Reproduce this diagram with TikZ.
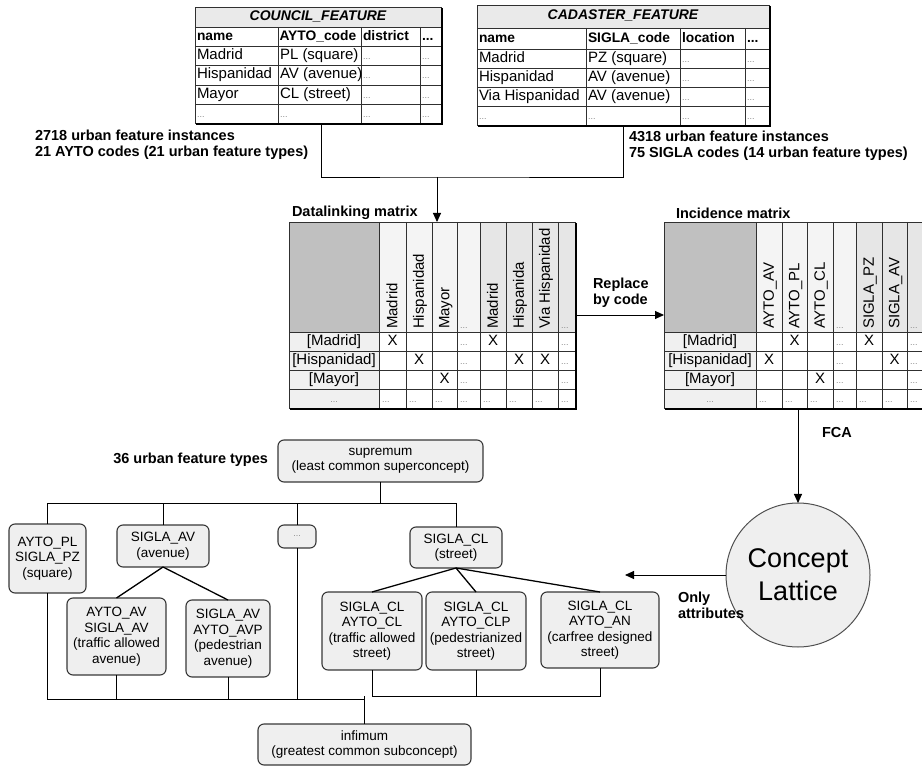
\documentclass[tikz,border=0pt]{standalone}
\usepackage{fontspec}
\setmainfont{Liberation Sans}
\usetikzlibrary{arrows.meta}

\definecolor{titlebg}{HTML}{EAEAEA}
\definecolor{cornerbg}{HTML}{C0C0C0}
\definecolor{headA}{HTML}{F4F4F4}
\definecolor{headB}{HTML}{E6E6E6}
\definecolor{labelbg}{HTML}{F0F0F0}
\definecolor{dotgray}{HTML}{8A8A8A}
\definecolor{gridcol}{HTML}{303030}
\definecolor{boxfill}{HTML}{EFEFEF}
\definecolor{boxline}{HTML}{383838}
\definecolor{circline}{HTML}{505050}

% grey cell dots and black header dots
\newcommand{\dts}{{\color{dotgray}\fontsize{9}{9}\selectfont...}}
\newcommand{\bdots}{...}

\tikzset{
  every node/.style={inner sep=0pt, outer sep=0pt},
  gridline/.style={draw=gridcol, line width=0.8pt},
  shadowline/.style={draw=black, line width=2pt},
  celltext/.style={font=\fontsize{15}{17}\selectfont, anchor=west, text height=10.5pt, text depth=3pt},
  hdrtext/.style={font=\bfseries\fontsize{13.8}{17}\selectfont, anchor=west, text height=10.5pt, text depth=3pt},
  titletext/.style={font=\bfseries\itshape\fontsize{14}{16}\selectfont, text height=10pt, text depth=3pt},
  rowlbl/.style={font=\fontsize{15}{17}\selectfont, text height=10.5pt, text depth=3pt},
  xcell/.style={font=\fontsize{15}{17}\selectfont, text height=10.5pt, text depth=3pt},
  vtext/.style={font=\fontsize{15}{17}\selectfont, rotate=90, anchor=west, text height=10.5pt, text depth=3pt},
  boldlbl/.style={font=\bfseries\fontsize{14.5}{16}\selectfont, align=left},
  conn/.style={draw=black, line width=0.9pt},
  arrowconn/.style={conn, -{Triangle[length=9pt,width=8pt]}},
  diag/.style={draw=black, line width=1.3pt},
  lbox/.style={draw=boxline, fill=boxfill, line width=1.1pt, rounded corners=6pt,
               align=center, font=\fontsize{13.5}{15.5}\selectfont},
}

\begin{document}
\begin{tikzpicture}[x=1pt,y=-1pt]
\useasboundingbox (0,0) rectangle (922,767);
\begin{scope}
\clip (0,0) rectangle (922,767);

% ---------------- COUNCIL_FEATURE table ----------------
\fill[titlebg] (195,7) rectangle (441,27);
\fill[white] (195,27) rectangle (441,123);
\foreach \yy in {27,46,65,85,104} \draw[gridline] (195,\yy) -- (441,\yy);
\foreach \xx in {278,361,420} \draw[gridline] (\xx,27) -- (\xx,123);
\draw[gridline] (195,7) rectangle (441,123);
\draw[shadowline] (441.5,8) -- (441.5,124) -- (196,124);
\node[titletext] (cf-title) at (318,17.5) {COUNCIL\_FEATURE};
\node[hdrtext] (cf-h1) at (197,36.5) {name};
\node[hdrtext] (cf-h2) at (279.5,36.5) {AYTO\_code};
\node[hdrtext] (cf-h3) at (363,36.5) {district};
\node[hdrtext] (cf-h4) at (422,36.5) {\bdots};
\foreach \r/\yy/\a/\b in {1/55.5/Madrid/PL (square), 2/75/Hispanidad/AV (avenue),
                          3/94.5/Mayor/CL (street), 4/113.5/\dts/\dts} {
  \node[celltext] (cf-\r-1) at (197,\yy) {\a};
  \node[celltext] (cf-\r-2) at (280,\yy) {\b};
  \node[celltext] (cf-\r-3) at (363,\yy) {\dts};
  \node[celltext] (cf-\r-4) at (422,\yy) {\dts};
}

% ---------------- CADASTER_FEATURE table ----------------
\fill[titlebg] (477,5) rectangle (769,28);
\fill[white] (477,28) rectangle (769,125);
\foreach \yy in {28,49,68,87,106} \draw[gridline] (477,\yy) -- (769,\yy);
\foreach \xx in {586,680,745} \draw[gridline] (\xx,28) -- (\xx,125);
\draw[gridline] (477,5) rectangle (769,125);
\draw[shadowline] (769.5,6) -- (769.5,126) -- (478,126);
\node[titletext] (ca-title) at (623,16.5) {CADASTER\_FEATURE};
\node[hdrtext] (ca-h1) at (479,38.5) {name};
\node[hdrtext] (ca-h2) at (588,38.5) {SIGLA\_code};
\node[hdrtext] (ca-h3) at (682,38.5) {location};
\node[hdrtext] (ca-h4) at (747,38.5) {\bdots};
\foreach \r/\yy/\a/\b in {1/58.5/Madrid/PZ (square), 2/77.5/Hispanidad/AV (avenue),
                          3/96.5/Via Hispanidad/AV (avenue), 4/115.5/\dts/\dts} {
  \node[celltext] (ca-\r-1) at (479,\yy) {\a};
  \node[celltext] (ca-\r-2) at (588,\yy) {\b};
  \node[celltext] (ca-\r-3) at (682,\yy) {\dts};
  \node[celltext] (ca-\r-4) at (747,\yy) {\dts};
}

% source statistics
\node[boldlbl, anchor=west] (cf-stats) at (35,145)
  {2718 urban feature instances\\21 AYTO codes (21 urban feature types)};
\node[boldlbl, anchor=west] (ca-stats) at (629,146)
  {4318 urban feature instances\\75 SIGLA codes (14 urban feature types)};

% merge of both sources into the datalinking matrix
\coordinate (cf-out) at (321,124);
\coordinate (ca-out) at (623,126);
\coordinate (jtop) at (437,177);
\coordinate (dl-in) at (437,222);
\draw[conn] (cf-out) |- (jtop) -| (ca-out);
\draw[arrowconn] (jtop) -- (dl-in);

% ---------------- Datalinking matrix ----------------
\node[boldlbl, anchor=west] (dl-title) at (292,213) {Datalinking matrix};
\fill[cornerbg] (289,222) rectangle (379,332);
\fill[headA] (379,222) rectangle (480,332);
\fill[headB] (480,222) rectangle (575,332);
\fill[labelbg] (289,332) rectangle (379,408);
\fill[white] (379,332) rectangle (575,408);
\foreach \xx in {379,406,432,457,480,506,532,558} \draw[gridline] (\xx,222) -- (\xx,408);
\foreach \yy in {332,351,370,389} \draw[gridline] (289,\yy) -- (575,\yy);
\draw[gridline] (289,222) rectangle (575,408);
\draw[shadowline] (576,223) -- (576,409) -- (290,409);
\foreach \c/\xx/\tx in {1/393.5/Madrid, 2/420/Hispanidad, 3/445.5/Mayor,
                        5/494/Madrid, 6/520/Hispanida, 7/546/Via Hispanidad}
  \node[vtext] (dl-h\c) at (\xx,329) {\tx};
\node[celltext] (dl-h4) at (460,325) {\dts};
\node[celltext] (dl-h8) at (561,325) {\dts};
\node[rowlbl] (dl-r1) at (334,341.5) {[Madrid]};
\node[rowlbl] (dl-r2) at (334,360.5) {[Hispanidad]};
\node[rowlbl] (dl-r3) at (334,379.5) {[Mayor]};
\node[rowlbl] (dl-r4) at (334,398.5) {\dts};
\foreach \r/\c/\xx/\yy in {1/1/392.5/341.5, 1/5/493/341.5, 2/2/419/360.5,
                           2/6/519/360.5, 2/7/545/360.5, 3/3/444.5/379.5}
  \node[xcell] (dl-\r-\c) at (\xx,\yy) {X};
\foreach \r/\yy in {1/341.5, 2/360.5, 3/379.5} {
  \node[celltext] (dl-\r-4) at (460,\yy) {\dts};
  \node[celltext] (dl-\r-8) at (561,\yy) {\dts};
}
\foreach \c/\xl in {1/382, 2/409, 3/435, 4/460, 5/483, 6/509, 7/535, 8/561}
  \node[celltext] (dl-4-\c) at (\xl,398.5) {\dts};

% ---------------- Incidence matrix ----------------
\node[boldlbl, anchor=west] (im-title) at (676,213) {Incidence matrix};
\fill[cornerbg] (664,222) rectangle (756,332);
\fill[headA] (756,222) rectangle (856,332);
\fill[headB] (856,222) rectangle (935,332);
\fill[labelbg] (664,332) rectangle (756,408);
\fill[white] (756,332) rectangle (935,408);
\foreach \xx in {756,782,807,833,856,882,907,932} \draw[gridline] (\xx,222) -- (\xx,408);
\foreach \yy in {332,351,370,389} \draw[gridline] (664,\yy) -- (935,\yy);
\draw[gridline] (935,222) -- (664,222) -- (664,408) -- (935,408);
\draw[shadowline] (665,409) -- (935,409);
\foreach \c/\xx/\tx in {1/770/AYTO\_AV, 2/795.5/AYTO\_PL, 3/821/AYTO\_CL,
                        5/870/SIGLA\_PZ, 6/895.5/SIGLA\_AV}
  \node[vtext] (im-h\c) at (\xx,329) {\tx};
\node[celltext] (im-h4) at (836,325) {\dts};
\node[celltext] (im-h7) at (910,325) {\dts};
\node[rowlbl] (im-r1) at (710,341.5) {[Madrid]};
\node[rowlbl] (im-r2) at (710,360.5) {[Hispanidad]};
\node[rowlbl] (im-r3) at (710,379.5) {[Mayor]};
\node[rowlbl] (im-r4) at (710,398.5) {\dts};
\foreach \r/\c/\xx/\yy in {1/2/794.5/341.5, 1/5/869/341.5, 2/1/769/360.5,
                           2/6/894.5/360.5, 3/3/820/379.5}
  \node[xcell] (im-\r-\c) at (\xx,\yy) {X};
\foreach \r/\yy in {1/341.5, 2/360.5, 3/379.5} {
  \node[celltext] (im-\r-4) at (836,\yy) {\dts};
  \node[celltext] (im-\r-7) at (910,\yy) {\dts};
}
\foreach \c/\xl in {1/759, 2/785, 3/810, 4/836, 5/859, 6/885, 7/910}
  \node[celltext] (im-4-\c) at (\xl,398.5) {\dts};

% replace names by codes
\coordinate (dl-out) at (576,315);
\coordinate (im-in) at (664,315);
\draw[arrowconn] (dl-out) -- (im-in);
\node[boldlbl, anchor=west] (replace) at (593,292.5) {Replace\\by code};

% ---------------- Concept lattice ----------------
\node[circle, draw=circline, fill=boxfill, line width=1pt, minimum size=144pt,
      align=center, font=\fontsize{27}{33}\selectfont] (lat) at (798,575) {Concept\\Lattice};
\coordinate (im-out) at (798,409);
\draw[arrowconn] (im-out) -- (lat.north);
\node[boldlbl, anchor=west] (fca) at (822,433) {FCA};
\coordinate (attr-tip) at (625,575);
\draw[arrowconn] (lat.west) -- (attr-tip);
\node[boldlbl, anchor=west] (onlyattr) at (678,605) {Only\\attributes};

% ---------------- Lattice of urban feature types ----------------
\node[boldlbl, anchor=east] (ntypes) at (268,460) {36 urban feature types};
\node[lbox, minimum width=205pt, minimum height=42pt] (sup) at (380.5,461)
  {supremum\\(least common superconcept)};
\node[lbox, minimum width=77pt, minimum height=69pt] (pl) at (47.5,558.5)
  {AYTO\_PL\\SIGLA\_PZ\\(square)};
\node[lbox, minimum width=92pt, minimum height=42pt] (av) at (163,546)
  {SIGLA\_AV\\(avenue)};
\node[lbox, minimum width=38pt, minimum height=23pt, font=\fontsize{9}{9}\selectfont] (dt) at (297,536.5)
  {\dts};
\node[lbox, minimum width=92pt, minimum height=41pt] (cl) at (456,547.5)
  {SIGLA\_CL\\(street)};
\node[lbox, minimum width=99pt, minimum height=77pt] (avav) at (116.5,636.5)
  {AYTO\_AV\\SIGLA\_AV\\(traffic allowed\\avenue)};
\node[lbox, minimum width=84pt, minimum height=77pt] (avp) at (228,638.5)
  {SIGLA\_AV\\AYTO\_AVP\\(pedestrian\\avenue)};
\node[lbox, minimum width=100pt, minimum height=78pt] (clcl) at (372,631)
  {SIGLA\_CL\\AYTO\_CL\\(traffic allowed\\street)};
\node[lbox, minimum width=100pt, minimum height=78pt] (clp) at (476,631)
  {SIGLA\_CL\\AYTO\_CLP\\(pedestrianized\\street)};
\node[lbox, minimum width=118pt, minimum height=76pt] (an) at (600,630)
  {SIGLA\_CL\\AYTO\_AN\\(carfree designed\\street)};
\node[lbox, minimum width=213pt, minimum height=41pt] (inf) at (364.5,744.5)
  {infimum\\(greatest common subconcept)};

% supremum to first level
\coordinate (jt) at (380.5,503);
\draw[conn] (sup.south) -- (jt);
\draw[conn] (pl.north) -- (pl.north |- jt) -- (cl.north |- jt) -- (cl.north);
\draw[conn] (av.north) -- (av.north |- jt);
\draw[conn] (dt.north) -- (dt.north |- jt);

% first level to second level
\draw[diag] (av.south) -- (avav.north);
\draw[diag] (av.south) -- (avp.north);
\draw[diag] (cl.south) -- (clcl.north);
\draw[diag] (cl.south) -- (clp.north);
\draw[diag] (cl.south) -- (an.north);

% everything down to the infimum
\coordinate (jb) at (364.5,699);
\coordinate (jb2) at (364.5,696);
\draw[conn] (pl.south) -- (pl.south |- jb) -- (jb);
\draw[conn] (avav.south) -- (avav.south |- jb);
\draw[conn] (avp.south) -- (avp.south |- jb);
\draw[conn] (dt.south) -- (dt.south |- jb);
\draw[conn] (clcl.south) -- (clcl.south |- jb2) -- (an.south |- jb2) -- (an.south);
\draw[conn] (clp.south) -- (clp.south |- jb2);
\draw[conn] (jb) -- (jb2) -- (inf.north);

\end{scope}
\end{tikzpicture}
\end{document}
